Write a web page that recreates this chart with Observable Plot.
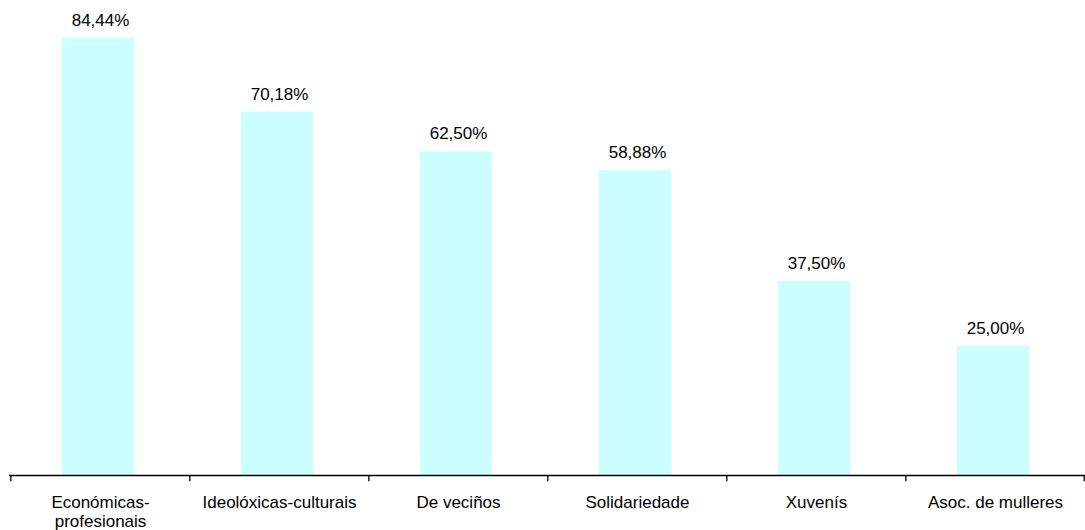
<!DOCTYPE html>
<html>
<head>
<meta charset="utf-8">
<script src="https://cdn.jsdelivr.net/npm/d3@7"></script>
<script src="https://cdn.jsdelivr.net/npm/@observablehq/plot@0.6"></script>
<style>
  html, body { margin: 0; padding: 0; background: #fff; }
</style>
</head>
<body>
<div id="chart"></div>
<script>
const categories = ["Económicas-profesionais", "Ideolóxicas-culturais", "De veciños", "Solidariedade", "Xuvenís", "Asoc. de mulleres"];
const tickLabels = ["Económicas-\nprofesionais", "Ideolóxicas-culturais", "De veciños", "Solidariedade", "Xuvenís", "Asoc. de mulleres"];
const values = [84.44, 70.18, 62.50, 58.88, 37.50, 25.00];

const data = categories.map((c, i) => ({category: c, value: values[i], label: tickLabels[i]}));

const W = 1085, H = 530, mL = 9, mR = 0;
const step = (W - mL - mR) / categories.length;
const fmt = v => v.toFixed(2).replace(".", ",") + "%";

const chart = Plot.plot({
  width: W,
  height: H,
  marginLeft: mL,
  marginRight: mR,
  marginTop: 9,
  marginBottom: 55,
  style: {fontFamily: "'Liberation Sans', Arial, sans-serif", fontSize: "17px", color: "#000", background: "#fff"},
  x: {domain: categories, paddingInner: 0.6, paddingOuter: 0.3, axis: null},
  y: {domain: [0, 90], axis: null},
  marks: [
    Plot.barY(data, {x: "category", y: "value", fill: "#CCFFFF", dx: -2}),
    Plot.text(data, {x: "category", y: "value", text: d => fmt(d.value), dy: -18, fill: "#000"}),
    Plot.ruleY([0], {stroke: "#000", strokeWidth: 1.3}),
    Plot.ruleX(categories, {x: d => d, y1: 0, y2: -1.2, dx: -step / 2, stroke: "#000", strokeWidth: 1.3}),
    Plot.ruleX([categories[categories.length - 1]], {x: d => d, y1: 0, y2: -1.2, dx: step / 2 - 1, stroke: "#000", strokeWidth: 1.3}),
    Plot.axisX({domain: categories, label: null, tickSize: 0, tickPadding: 19, tickFormat: d => tickLabels[categories.indexOf(d)], lineHeight: 1.12, fill: "#000"})
  ]
});
document.getElementById("chart").appendChild(chart);
</script>
</body>
</html>
